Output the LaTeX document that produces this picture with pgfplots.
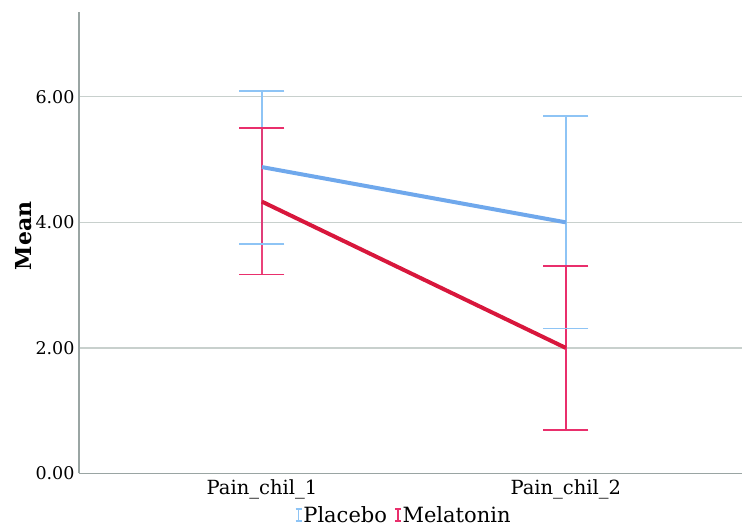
\documentclass[border=0pt]{standalone}
\usepackage{pgfplots}
\pgfplotsset{compat=1.18}
\usepackage{fontspec}
\setmainfont{DejaVu Serif}
\definecolor{plline}{HTML}{6FA8EC}
\definecolor{plerr}{HTML}{8EC4F5}
\definecolor{meline}{HTML}{D8173C}
\definecolor{meerr}{HTML}{E92F6C}
\definecolor{gridc}{HTML}{C8D0CD}
\definecolor{axc}{HTML}{9AA5A3}
\pgfplotstableread{
x y lo hi
0 4.88 3.66 6.09
1 4.00 2.31 5.69
}\placebo
\pgfplotstableread{
x y lo hi
0 4.33 3.17 5.50
1 2.00 0.69 3.31
}\melatonin
\begin{document}
\begin{tikzpicture}
\begin{axis}[
  name=ax,
  scale only axis,
  width=663pt, height=461.5pt,
  xmin=-0.602, xmax=1.58,
  ymin=0, ymax=7.35,
  axis x line=bottom, axis y line=left,
  axis line style={-, draw=axc, line width=1.5pt},
  xtick={0,1}, xticklabels={Pain\_chil\_1, Pain\_chil\_2},
  ytick={0,2,4,6},
  yticklabel style={/pgf/number format/fixed, /pgf/number format/fixed zerofill, /pgf/number format/precision=2, xshift=-1pt},
  /pgf/number format/assume math mode=true,
  major tick length=0pt,
  ymajorgrids, grid style={draw=gridc, line width=1.3pt},
  tick label style={font=\fontsize{17.5}{20}\selectfont, text=black},
  xticklabel style={font=\fontsize{19.5}{22}\selectfont, yshift=-3pt},
  ylabel={\textbf{Mean}},
  ylabel style={font=\fontsize{22}{26}\selectfont, at={(axis description cs:-0.083,0.515)}, anchor=center},
  legend style={at={(0.489,-0.068)}, anchor=north, draw=none, fill=none,
    legend columns=-1, font=\fontsize{21}{24}\selectfont, inner sep=0pt,
    /tikz/every even column/.append style={column sep=6pt},
    nodes={inner sep=1pt}},
]
% error bars: vertical segments low--high
\addplot[plerr, line width=1.8pt, forget plot] coordinates {(0,3.66) (0,6.09)};
\addplot[plerr, line width=1.8pt, forget plot] coordinates {(1,2.31) (1,5.69)};
\addplot[plerr, only marks, mark=-, mark size=22.5pt, mark options={line width=1.8pt}, forget plot]
  table[x=x, y=lo] {\placebo};
\addplot[plerr, only marks, mark=-, mark size=22.5pt, mark options={line width=1.8pt}, forget plot]
  table[x=x, y=hi] {\placebo};
\addplot[meerr, line width=1.8pt, opacity=0.9, forget plot] coordinates {(0,3.17) (0,5.50)};
\addplot[meerr, line width=1.8pt, forget plot] coordinates {(1,0.69) (1,3.31)};
\addplot[meerr, only marks, mark=-, mark size=22.5pt, mark options={line width=1.8pt}, forget plot]
  table[x=x, y=lo] {\melatonin};
\addplot[meerr, only marks, mark=-, mark size=22.5pt, mark options={line width=1.8pt}, forget plot]
  table[x=x, y=hi] {\melatonin};
% means
\addplot[plline, line width=4pt, mark=none,
  legend image code/.code={
    \draw[plerr, line width=1.5pt] (0pt,-6pt) -- (0pt,6pt);
    \draw[plerr, line width=1.5pt] (-3pt,-6pt) -- (3pt,-6pt);
    \draw[plerr, line width=1.5pt] (-3pt,6pt) -- (3pt,6pt);
  }] table[x=x, y=y] {\placebo};
\addlegendentry{Placebo}
\addplot[meline, line width=4pt, mark=none,
  legend image code/.code={
    \draw[meerr, line width=1.5pt] (0pt,-6pt) -- (0pt,6pt);
    \draw[meerr, line width=1.5pt] (-3pt,-6pt) -- (3pt,-6pt);
    \draw[meerr, line width=1.5pt] (-3pt,6pt) -- (3pt,6pt);
  }] table[x=x, y=y] {\melatonin};
\addlegendentry{Melatonin}
\end{axis}
\pgfresetboundingbox
\path (ax.south west) ++(-79pt,-58.5pt) rectangle ++(742pt,532pt);
\end{tikzpicture}
\end{document}
